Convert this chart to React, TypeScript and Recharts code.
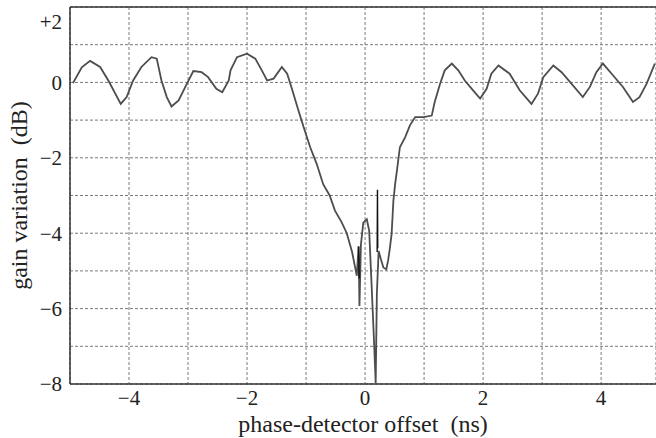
import React from 'react';
import { LineChart, Line, XAxis, YAxis, CartesianGrid, ReferenceLine } from 'recharts';

// offset in ns
const offsetNs = [
  -4.95, -4.8, -4.66, -4.49, -4.35, -4.14, -4.04, -3.93, -3.79, -3.62, -3.53, -3.45, -3.36, -3.28,
  -3.16, -3.02, -2.91, -2.77, -2.66, -2.52, -2.42, -2.31, -2.28, -2.17, -2.0, -1.86, -1.75, -1.66,
  -1.55, -1.41, -1.32, -1.24, -1.13, -1.04, -0.93, -0.82, -0.71, -0.6, -0.51, -0.4, -0.31, -0.22,
  -0.14, -0.11, -0.095, -0.07, -0.03, 0.03, 0.07, 0.11, 0.15, 0.18, 0.2, 0.23, 0.27, 0.31, 0.36,
  0.39, 0.42, 0.45, 0.48, 0.51, 0.54, 0.59, 0.68, 0.76, 0.85, 0.99, 1.13, 1.18, 1.27, 1.35, 1.47,
  1.58, 1.69, 1.83, 1.95, 2.06, 2.14, 2.26, 2.45, 2.62, 2.82, 2.93, 3.02, 3.19, 3.33, 3.5, 3.69,
  3.81, 3.92, 4.03, 4.2, 4.37, 4.54, 4.65, 4.77, 4.91,
];

// gain variation in dB
const gainDb = [
  -0.02, 0.4, 0.57, 0.41, 0.05, -0.57, -0.39, 0.05, 0.41, 0.67, 0.63, 0.05, -0.39, -0.64,
  -0.48, -0.04, 0.3, 0.27, 0.14, -0.17, -0.26, 0.05, 0.32, 0.67, 0.76, 0.63, 0.32, 0.05,
  0.1, 0.41, 0.23, -0.17, -0.74, -1.19, -1.72, -2.16, -2.7, -3.0, -3.4, -3.7, -4.0, -4.5,
  -5.13, -4.35, -5.93, -4.3, -3.72, -3.63, -3.94, -5.35, -6.8, -7.97, -5.6, -4.47, -4.7, -4.91, -4.96,
  -4.73, -4.4, -4.02, -3.14, -2.69, -2.34, -1.72, -1.45, -1.14, -0.92, -0.92, -0.88, -0.52, -0.04, 0.32, 0.5,
  0.32, 0.05, -0.21, -0.43, -0.17, 0.23, 0.45, 0.23, -0.21, -0.57, -0.3, 0.14, 0.45, 0.27, -0.04, -0.39,
  -0.12, 0.27, 0.5, 0.19, -0.12, -0.52, -0.39, -0.04, 0.5,
];

// darker glitch segments near zero offset
const spikeLeftNs = [-0.11, -0.1];
const spikeLeftDb = [-4.35, -5.2];
const spikeRightNs = [0.205, 0.21, 0.215];
const spikeRightDb = [-4.5, -2.85, -4.4];

const xTicks = [-4, -3, -2, -1, 0, 1, 2, 3, 4];
const yTicks = [-8, -7, -6, -5, -4, -3, -2, -1, 0, 1, 2];

const gainData = offsetNs.map((x, i) => ({ x, y: gainDb[i] }));
const spikeLeft = spikeLeftNs.map((x, i) => ({ x, y: spikeLeftDb[i] }));
const spikeRight = spikeRightNs.map((x, i) => ({ x, y: spikeRightDb[i] }));

const font = '"Liberation Serif", "Times New Roman", serif';

const fmtX = (v: number) => (v % 2 === 0 ? (v < 0 ? '\u2212' + Math.abs(v) : String(v)) : '');

function YTick(props: any) {
  const { x, y, payload } = props;
  const v = payload.value;
  if (v % 2 !== 0) return null;
  const label = v > 0 ? '+' + v : v < 0 ? '\u2212' + Math.abs(v) : '0';
  return (
    <text
      x={x}
      y={v === 2 ? y + 13 : y}
      dy="0.35em"
      textAnchor="end"
      fill="#222"
      style={{ fontSize: 21, fontFamily: font }}
    >
      {label}
    </text>
  );
}

export default function App() {
  return (
    <div style={{ position: 'absolute', left: 0, top: 0, background: '#fff', fontFamily: font }}>
      <LineChart width={656} height={438} margin={{ top: 7, right: 0, bottom: 0, left: 0 }}>
        <CartesianGrid stroke="#7a7a7a" strokeDasharray="3 2" strokeWidth={1} />
        <XAxis
          type="number"
          dataKey="x"
          domain={[-5, 4.93]}
          allowDataOverflow
          ticks={xTicks}
          tickFormatter={fmtX}
          tickLine={false}
          tickMargin={0}
          height={54}
          axisLine={{ stroke: '#333', strokeWidth: 1.5 }}
          tick={{ fill: '#222', fontSize: 21, fontFamily: font }}
          label={{
            value: 'phase-detector offset\u00a0 (ns)',
            position: 'insideBottom',
            offset: 6,
            style: { fill: '#222', fontSize: 24, fontFamily: font, textAnchor: 'middle' },
          }}
        />
        <YAxis
          type="number"
          domain={[-8, 2]}
          ticks={yTicks}
          tick={<YTick />}
          tickLine={false}
          width={70}
          axisLine={{ stroke: '#333', strokeWidth: 1.5 }}
          label={{
            value: 'gain variation\u00a0 (dB)',
            angle: -90,
            position: 'insideLeft',
            offset: 18,
            style: { fill: '#222', fontSize: 24, fontFamily: font, textAnchor: 'middle' },
          }}
        />
        <ReferenceLine y={2} stroke="#333" strokeWidth={1.5} />
        <Line
          data={gainData}
          dataKey="y"
          type="linear"
          stroke="#4d4d4d"
          strokeWidth={1.8}
          dot={false}
          isAnimationActive={false}
        />
        <Line
          data={spikeLeft}
          dataKey="y"
          type="linear"
          stroke="#111"
          strokeWidth={1.4}
          dot={false}
          isAnimationActive={false}
        />
        <Line
          data={spikeRight}
          dataKey="y"
          type="linear"
          stroke="#111"
          strokeWidth={1.4}
          dot={false}
          isAnimationActive={false}
        />
      </LineChart>
    </div>
  );
}
